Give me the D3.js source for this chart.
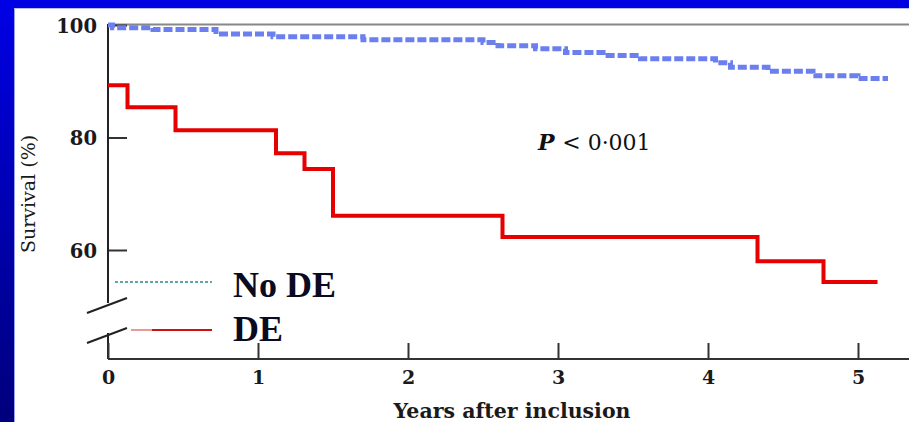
<!DOCTYPE html>
<html>
<head>
<meta charset="utf-8">
<script src="https://cdn.jsdelivr.net/npm/d3@7/dist/d3.min.js"></script>
<style>
  html, body { margin: 0; padding: 0; background: #0000e0; }
  svg { display: block; }
</style>
</head>
<body>
<svg id="chart" width="909" height="422"></svg>
<script>
// ---- data ----
const xTickValues = [0, 1, 2, 3, 4, 5];
const yTickValues = [60, 80, 100];
const deTimes     = [0, 0.13, 0.45, 1.12, 1.31, 1.50, 2.63, 4.33, 4.77, 5.13];
const deSurvival  = [89.3, 85.4, 81.3, 77.2, 74.4, 66.1, 62.3, 58.0, 54.3, 54.3];
const noDeTimes    = [0, 0.03, 0.30, 0.72, 1.10, 1.70, 2.50, 2.60, 2.85, 3.05, 3.30, 3.55, 4.05, 4.15, 4.40, 4.70, 5.00, 5.20];
const noDeSurvival = [100, 99.5, 99.2, 98.4, 97.9, 97.4, 96.9, 96.3, 95.8, 95.1, 94.6, 94.0, 93.3, 92.5, 91.8, 91.0, 90.5, 90.5];
const seriesNames = ["No DE", "DE"];
const xTitle = "Years after inclusion";
const yTitle = "Survival (%)";
const pText = "< 0\u00B7001";

// ---- layout ----
const svg = d3.select("#chart");
const W = 909, H = 422;
const x = d3.scaleLinear().domain([0, 5]).range([108, 858]);
const y = d3.scaleLinear().domain([60, 100]).range([250, 25]);
const axisY = 359;

// background
const defs = svg.append("defs");
const lg = defs.append("linearGradient").attr("id", "leftband").attr("x1", 0).attr("y1", 0).attr("x2", 0).attr("y2", 1);
lg.append("stop").attr("offset", "0%").attr("stop-color", "#0000e6");
lg.append("stop").attr("offset", "100%").attr("stop-color", "#00007c");
svg.append("rect").attr("width", W).attr("height", H).attr("fill", "#0000e0");
svg.append("rect").attr("x", 0).attr("y", 0).attr("width", 14).attr("height", H).attr("fill", "url(#leftband)");
svg.append("rect").attr("x", 14).attr("y", 8).attr("width", W - 14).attr("height", H - 8).attr("fill", "#ffffff");
svg.append("line").attr("x1", 14.5).attr("x2", 14.5).attr("y1", 8).attr("y2", H).attr("stroke", "#9aa0f0").attr("stroke-width", 1);
svg.append("line").attr("x1", 14).attr("x2", W).attr("y1", 8.5).attr("y2", 8.5).attr("stroke", "#b8bcf4").attr("stroke-width", 1);

// top frame line
svg.append("line").attr("x1", x(0)).attr("x2", W).attr("y1", y(100) - 0.5).attr("y2", y(100) - 0.5)
  .attr("stroke", "#888").attr("stroke-width", 2);

// y axis (ticks inward, labels left)
const yAxis = d3.axisLeft(y).tickValues(yTickValues).tickSizeInner(-19).tickSizeOuter(0).tickPadding(11);
const gy = svg.append("g").attr("transform", `translate(${x(0)},0)`).call(yAxis);
gy.select(".domain").remove();
gy.selectAll(".tick line").attr("stroke", "#333").attr("stroke-width", 2);
gy.selectAll(".tick text").attr("font-family", "'DejaVu Serif', serif").attr("font-weight", "bold")
  .attr("font-size", 19.5).attr("fill", "#1a1a1a").attr("dy", "0.38em");

// y axis line with break
svg.append("line").attr("x1", x(0)).attr("x2", x(0)).attr("y1", y(100) - 1).attr("y2", 303)
  .attr("stroke", "#222").attr("stroke-width", 2);
svg.append("line").attr("x1", x(0)).attr("x2", x(0)).attr("y1", 333).attr("y2", axisY)
  .attr("stroke", "#222").attr("stroke-width", 2);
svg.append("line").attr("x1", 87).attr("y1", 313).attr("x2", 127).attr("y2", 298).attr("stroke", "#222").attr("stroke-width", 2);
svg.append("line").attr("x1", 87).attr("y1", 343).attr("x2", 127).attr("y2", 328).attr("stroke", "#222").attr("stroke-width", 2);

// x axis
const xAxis = d3.axisBottom(x).tickValues(xTickValues).tickFormat(d3.format("d"))
  .tickSizeInner(-16).tickSizeOuter(0).tickPadding(12);
const gx = svg.append("g").attr("transform", `translate(0,${axisY})`).call(xAxis);
gx.select(".domain").remove();
gx.selectAll(".tick line").attr("stroke", "#333").attr("stroke-width", 2);
gx.selectAll(".tick text").attr("font-family", "'DejaVu Serif', serif").attr("font-weight", "bold")
  .attr("font-size", 19).attr("fill", "#1a1a1a");
svg.append("line").attr("x1", x(0)).attr("x2", W).attr("y1", axisY).attr("y2", axisY)
  .attr("stroke", "#333").attr("stroke-width", 2);

// titles
svg.append("text").attr("x", 512).attr("y", 418).attr("text-anchor", "middle")
  .attr("font-family", "'DejaVu Serif', serif").attr("font-weight", "bold").attr("font-size", 20.5)
  .attr("fill", "#1a1a1a").text(xTitle);
svg.append("text").attr("transform", "translate(35,194) rotate(-90)").attr("text-anchor", "middle")
  .attr("font-family", "'DejaVu Serif', serif").attr("font-size", 19)
  .attr("fill", "#1a1a1a").text(yTitle);

// P value
const pt = svg.append("text").attr("x", 538).attr("y", 150)
  .attr("font-family", "'DejaVu Serif', serif").attr("font-size", 22).attr("fill", "#111");
pt.append("tspan").attr("font-style", "italic").attr("font-weight", "bold").text("P ");
pt.append("tspan").text(pText);

// curves
const stepLine = d3.line().x(d => x(d[0])).y(d => y(d[1])).curve(d3.curveStepAfter);
const noDe = noDeTimes.map((t, i) => [t, noDeSurvival[i]]);
const de = deTimes.map((t, i) => [t, deSurvival[i]]);

svg.append("path").datum(noDe).attr("d", stepLine).attr("fill", "none")
  .attr("stroke", "#6b80ee").attr("stroke-width", 5).attr("stroke-dasharray", "9,3");
svg.append("path").datum(de).attr("d", stepLine).attr("fill", "none")
  .attr("stroke", "#e60000").attr("stroke-width", 4).attr("stroke-linejoin", "miter");

// legend
svg.append("line").attr("x1", 115).attr("x2", 212).attr("y1", 282).attr("y2", 282)
  .attr("stroke", "#2a8a8a").attr("stroke-width", 1.5).attr("stroke-dasharray", "3,2");
svg.append("line").attr("x1", 131).attr("x2", 152).attr("y1", 330).attr("y2", 330)
  .attr("stroke", "#e89a9a").attr("stroke-width", 2);
svg.append("line").attr("x1", 152).attr("x2", 212).attr("y1", 330).attr("y2", 330)
  .attr("stroke", "#cc1111").attr("stroke-width", 2);
svg.append("text").attr("x", 233).attr("y", 297).attr("font-family", "'Liberation Serif', 'Times New Roman', serif")
  .attr("font-weight", "bold").attr("font-size", 36).attr("fill", "#0a0a20").text(seriesNames[0]);
svg.append("text").attr("x", 233).attr("y", 341).attr("font-family", "'Liberation Serif', 'Times New Roman', serif")
  .attr("font-weight", "bold").attr("font-size", 36).attr("fill", "#0a0a20").text(seriesNames[1]);
</script>
</body>
</html>
